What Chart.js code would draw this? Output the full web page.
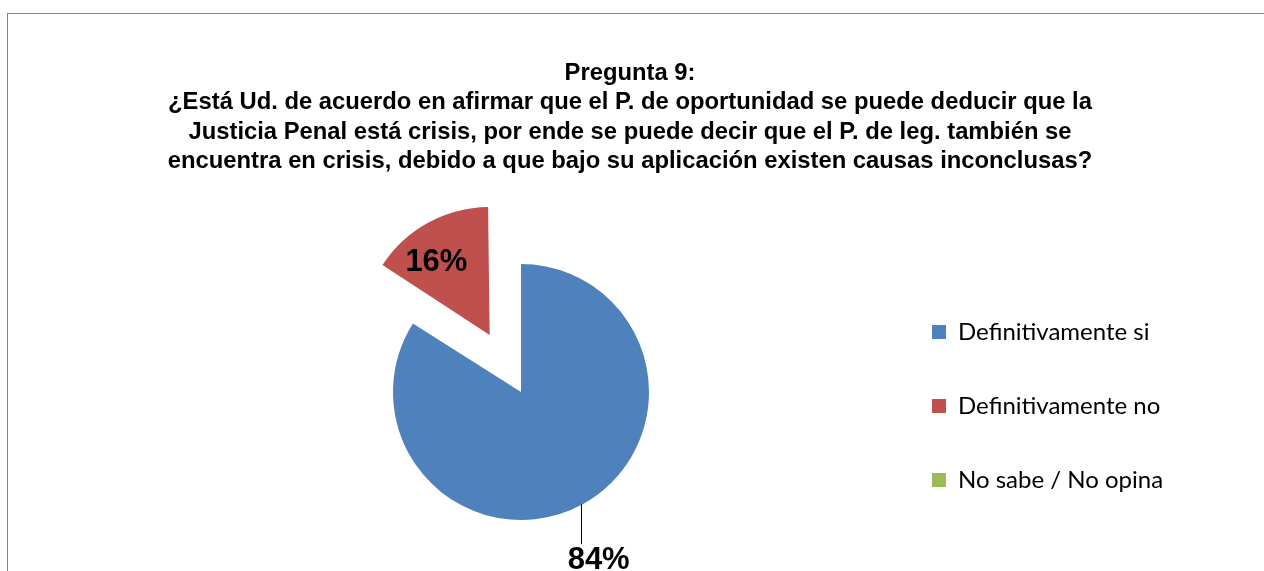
<!DOCTYPE html>
<html>
<head>
<meta charset="utf-8">
<script src="https://cdn.jsdelivr.net/npm/chart.js@4.4.1/dist/chart.umd.min.js"></script>
<style>
  html, body { margin: 0; padding: 0; background: #fff; overflow: hidden; }
  #frame {
    position: absolute; left: 7px; top: 13px; width: 1500px; height: 800px;
    border-left: 1px solid #868686; border-top: 1px solid #868686;
  }
  #pie-canvas { position: absolute; left: 0; top: 0; }
  #font-warm { position: absolute; left: -9999px; top: 0; font: 24px Lato; visibility: hidden; }
</style>
</head>
<body>
<div id="frame"></div>
<span id="font-warm">Definitivamente no</span>
<canvas id="pie-canvas" width="1264" height="640"></canvas>
<script>
const titleLines = [
  "Pregunta 9:",
  "¿Está Ud. de acuerdo en afirmar que el P. de oportunidad se puede deducir que la",
  "Justicia Penal está crisis, por ende se puede decir que el P. de leg. también se",
  "encuentra en crisis, debido a que bajo su aplicación existen causas inconclusas?",
];
const answerLabels = ["Definitivamente si", "Definitivamente no", "No sabe / No opina"];
const answerValues = [84, 16, 0];
const sliceColors = ["#4F81BD", "#C0504D", "#9BBB59"];
const sliceOffsets = [0, 260, 0];

const PIE_RADIUS = 128;
const PIE_CX = 521;
const LEGEND_BOX_X = 932;
const TITLE_CX = 630;
const LEG_FAMILY = "Lato, 'Open Sans', sans-serif";
const LEG_FONT = { family: LEG_FAMILY, size: 24 };
const LEG_BOX = 14;
const LEG_PAD = 50;

// force the legend font to be loaded before anything gets measured
document.getElementById("font-warm").offsetWidth;

// first guess at the legend width, corrected after the first layout
const measureCtx = document.createElement("canvas").getContext("2d");
measureCtx.font = LEG_FONT.size + "px " + LEG_FAMILY;
const textW = Math.max(...answerLabels.map((l) => measureCtx.measureText(l).width));
const legendLeft = LEGEND_BOX_X - LEG_PAD;
let padRight = 1264 - legendLeft - (LEG_PAD + LEG_BOX + LEG_FONT.size / 2 + textW + 10);

function pads() {
  const padLeft = 2 * TITLE_CX - 1264 + padRight;
  return { padLeft, spacerW: 2 * PIE_CX - legendLeft - padLeft };
}

// keep the exploded slice at the same radius as the others
const radiusFix = {
  id: "radiusFix",
  afterUpdate(chart) {
    chart.getDatasetMeta(0).data.forEach((arc, i) => {
      const off = (sliceOffsets[i] || 0) / 4;
      if (!off) return;
      const fix = 1 - Math.sin(Math.min(Math.PI, arc.circumference));
      arc.outerRadius = PIE_RADIUS - off * fix;
    });
  },
};

// percentage labels, Excel style
const pctLabels = {
  id: "pctLabels",
  afterDatasetsDraw(chart) {
    const ctx = chart.ctx;
    const arcs = chart.getDatasetMeta(0).data;
    const total = answerValues.reduce((a, b) => a + b, 0);
    ctx.save();
    ctx.font = "bold 31px 'Liberation Sans', Arial, sans-serif";
    ctx.fillStyle = "#000";
    ctx.textAlign = "center";
    ctx.textBaseline = "middle";
    arcs.forEach((arc, i) => {
      const v = answerValues[i];
      if (!v) return;
      const txt = Math.round((v / total) * 100) + "%";
      const mid = (arc.startAngle + arc.endAngle) / 2;
      const shift = (sliceOffsets[i] || 0) / 4;
      const cx = arc.x + Math.cos(mid) * shift;
      const cy = arc.y + Math.sin(mid) * shift;
      if (i === 0) {
        // leader line below the big slice
        const ex = cx + Math.cos(mid) * PIE_RADIUS;
        const ey = cy + Math.sin(mid) * PIE_RADIUS;
        ctx.strokeStyle = "#000";
        ctx.lineWidth = 1;
        ctx.beginPath();
        ctx.moveTo(Math.round(ex) - 1.5, ey);
        ctx.lineTo(Math.round(ex) - 1.5, ey + 40);
        ctx.stroke();
        ctx.fillText(txt, ex + 16, ey + 56);
      } else {
        const a = mid - (7.5 * Math.PI) / 180;
        ctx.fillText(txt, cx + Math.cos(a) * 90, cy + Math.sin(a) * 90);
      }
    });
    ctx.restore();
  },
};

const p0 = pads();
const pieChart = new Chart(document.getElementById("pie-canvas").getContext("2d"), {
  type: "pie",
  data: {
    labels: answerLabels,
    datasets: [
      {
        data: answerValues,
        backgroundColor: sliceColors,
        borderWidth: 0,
        offset: sliceOffsets,
      },
    ],
  },
  options: {
    responsive: false,
    animation: false,
    events: [],
    radius: PIE_RADIUS,
    layout: {
      padding: { left: p0.padLeft, right: padRight, top: 0, bottom: 36 },
    },
    plugins: {
      tooltip: { enabled: false },
      title: {
        display: true,
        text: titleLines,
        color: "#000",
        font: { family: "'Liberation Sans', Arial, sans-serif", size: 23.8, weight: "bold", lineHeight: "29.5px" },
        padding: { top: 58.5, bottom: 3.5 },
      },
      // empty spacer on the left so the pie sits off-centre like the original
      subtitle: {
        display: true,
        text: "",
        position: "left",
        fullSize: false,
        font: { size: 10, lineHeight: "10px" },
        padding: { top: p0.spacerW - 10, bottom: 0 },
      },
      legend: {
        position: "right",
        fullSize: false,
        maxWidth: 420,
        // empty title only pushes the items down a little
        title: { display: true, text: "", padding: 0, font: { family: LEG_FAMILY, size: 24, lineHeight: "28px" } },
        labels: {
          boxWidth: LEG_BOX,
          boxHeight: LEG_BOX,
          padding: LEG_PAD,
          color: "#000",
          font: LEG_FONT,
        },
      },
    },
  },
  plugins: [radiusFix, pctLabels],
});

// nudge the padding until the legend starts where it does in the original
for (let k = 0; k < 3; k++) {
  const dx = pieChart.legend.left - legendLeft;
  if (Math.abs(dx) < 0.5) break;
  padRight += dx;
  const p = pads();
  pieChart.options.layout.padding.left = p.padLeft;
  pieChart.options.layout.padding.right = padRight;
  pieChart.options.plugins.subtitle.padding = { top: p.spacerW - 10, bottom: 0 };
  pieChart.update("none");
}
</script>
</body>
</html>
